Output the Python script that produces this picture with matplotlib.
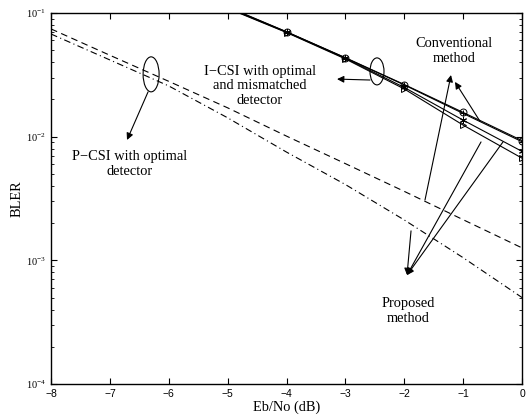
import numpy as np
import matplotlib.pyplot as plt
from matplotlib.patches import Ellipse

# Eb/No axis (dB)
snr_solid = [-5, -4, -3, -2, -1, 0]
snr_pcsi = [-8, -7, -6, -5, -4, -3, -2, -1, 0]

# I-CSI curves (conventional / proposed, optimal / mismatched)
conv_opt = [0.112, 0.0705, 0.0435, 0.0264, 0.0157, 0.0093]
conv_mis = [0.111, 0.0703, 0.0433, 0.0262, 0.0154, 0.0091]
prop_opt = [0.110, 0.0700, 0.0430, 0.0250, 0.0136, 0.0076]
prop_mis = [0.109, 0.0695, 0.0425, 0.0243, 0.0124, 0.0067]

# P-CSI curves
pcsi_a = [0.0743, 0.0455, 0.0280, 0.0171, 0.0101, 0.00605, 0.00361, 0.00213, 0.00126]
pcsi_b = [0.0676, 0.0417, 0.0257, 0.0142, 0.0075, 0.0041, 0.00212, 0.00105, 0.0005]

plt.rcParams['font.family'] = ['Liberation Serif']
plt.rcParams['mathtext.fontset'] = 'custom'
plt.rcParams['mathtext.rm'] = 'Liberation Sans'

fig = plt.figure(figsize=(5.26, 4.16), dpi=100)
ax = fig.add_axes([0.097, 0.077, 0.8954, 0.8918])

lw = 0.8
ax.plot(snr_solid, conv_opt, 'k-', lw=lw, marker='o', ms=5, mfc='none', mew=0.7, markevery=slice(1, None))
ax.plot(snr_solid, conv_mis, 'k-', lw=lw, marker='+', ms=5, mew=0.7, markevery=slice(1, None))
ax.plot(snr_solid, prop_opt, 'k-', lw=lw, marker=(6, 2, 0), ms=5, mew=0.7, markevery=slice(1, None))
ax.plot(snr_solid, prop_mis, 'k-', lw=lw, marker='>', ms=5, mfc='none', mew=0.7, markevery=slice(1, None))
ax.plot(snr_pcsi, pcsi_a, 'k', lw=lw, dashes=(6, 4))
ax.plot(snr_pcsi, pcsi_b, 'k', lw=lw, dashes=(6, 3, 1, 3))

ax.set_yscale('log')
ax.set_xlim(-8, 0)
ax.set_ylim(1e-4, 1e-1)
ax.set_xticks(range(-8, 1))
ax.tick_params(which='both', direction='in', top=True, right=True, labelsize=7.5)
ax.tick_params(which='major', length=4)
ax.tick_params(which='minor', length=2)
ax.set_xticklabels(['\u22128', '\u22127', '\u22126', '\u22125', '\u22124', '\u22123', '\u22122', '\u22121', '0'],
                   family='Liberation Sans')
for s in ax.spines.values():
    s.set_linewidth(1.0)

ax.set_xlabel('Eb/No (dB)', fontsize=10.4, labelpad=1)
ax.set_ylabel('BLER', fontsize=10.4, labelpad=2)


def axfrac(x, y):
    return ((x + 8) / 8, (np.log10(y) + 4) / 3)


# ellipses (size given in axes fraction)
ax.add_patch(Ellipse(axfrac(-6.30, 0.0319), 16 / 471, 35 / 371, transform=ax.transAxes,
                     fill=False, lw=0.8, color='k'))
ax.add_patch(Ellipse(axfrac(-2.463, 0.0337), 14 / 471, 27 / 371, transform=ax.transAxes,
                     fill=False, lw=0.8, color='k'))

arrow = dict(arrowstyle='-|>', color='k', lw=0.8, mutation_scale=10, shrinkA=0, shrinkB=0)

ax.annotate('', xy=(-6.709, 0.0094), xytext=(-6.352, 0.0230), arrowprops=arrow)
ax.annotate('', xy=(-3.142, 0.0292), xytext=(-2.582, 0.0287), arrowprops=arrow)
ax.annotate('', xy=(-1.206, 0.0315), xytext=(-1.648, 0.00307), arrowprops=arrow)
ax.annotate('', xy=(-1.138, 0.0277), xytext=(-0.713, 0.0133), arrowprops=arrow)
ax.annotate('', xy=(-1.953, 0.00076), xytext=(-1.885, 0.00173), arrowprops=arrow)
ax.annotate('', xy=(-1.953, 0.00076), xytext=(-0.696, 0.00906), arrowprops=arrow)
ax.annotate('', xy=(-1.953, 0.00076), xytext=(-0.323, 0.00906), arrowprops=arrow)

fs = 10.4
ax.text(-6.658, 0.0060, 'P\u2212CSI with optimal\ndetector', ha='center', va='center',
        fontsize=fs, linespacing=1.15)
ax.text(-4.45, 0.0257, 'I\u2212CSI with optimal\nand mismatched\ndetector', ha='center', va='center',
        fontsize=fs, linespacing=1.15)
ax.text(-1.155, 0.0493, 'Conventional\nmethod', ha='center', va='center', fontsize=fs, linespacing=1.15)
ax.text(-1.936, 0.00039, 'Proposed\nmethod', ha='center', va='center', fontsize=fs, linespacing=1.15)

fig.savefig('out.png', dpi=100)
